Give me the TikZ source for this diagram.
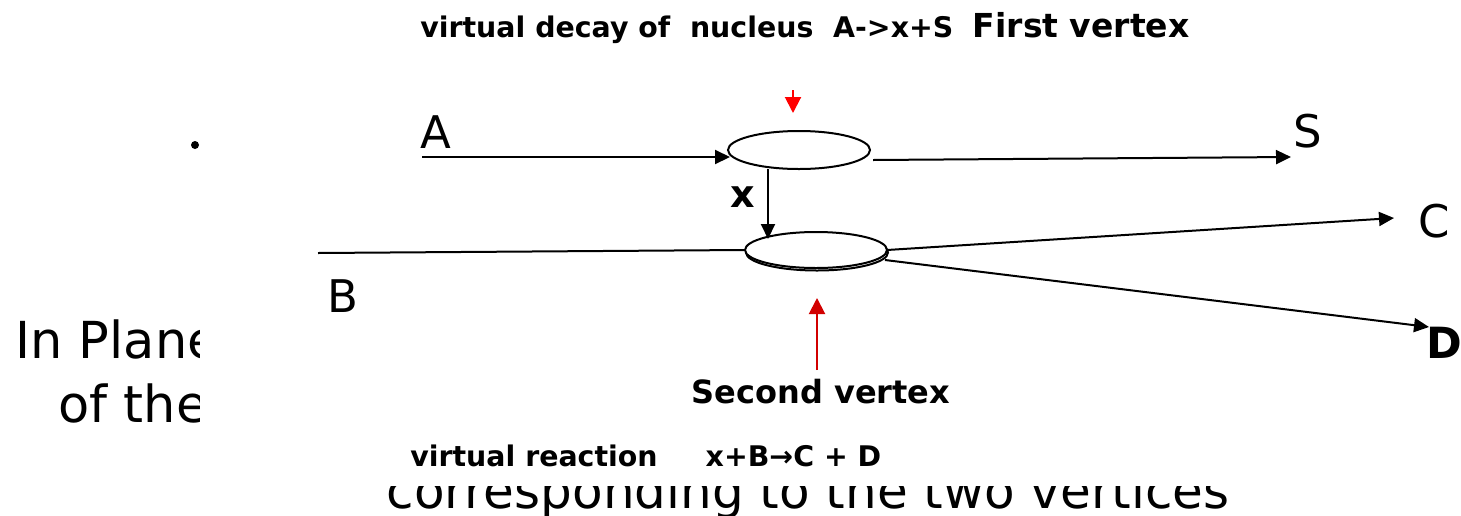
\documentclass[tikz,border=0pt]{standalone}
\usepackage{fontspec}
\setmainfont{DejaVu Sans}
\usetikzlibrary{arrows.meta,shapes.geometric}
\definecolor{darkred}{RGB}{210,0,0}
\tikzset{
  line/.style={line width=1pt,black},
  arr/.style={line, -{Triangle[length=7.5pt,width=7pt]}},
  redarr/.style={line width=1pt,#1,-{Triangle[length=8pt,width=8pt]}},
  vtx/.style={ellipse,draw,line width=1pt,minimum width=71pt,minimum height=19pt,inner sep=0pt,fill=white},
  big/.style={font=\fontsize{25.5}{30}\selectfont,inner sep=0pt},
  lbl/.style={font=\fontsize{22.5}{26}\selectfont,inner sep=0pt},
  captxt/.style={font=\fontsize{14.2}{17}\selectfont\bfseries,inner sep=0pt},
}
\begin{document}
\begin{tikzpicture}[x=0.5pt,y=-0.5pt]
\useasboundingbox (0,0) rectangle (1461,515);
\clip (0,0) rectangle (1461,515);
% background slide text, partly covered
\node[big,anchor=base west] (t1) at (15,358) {In Plane};
\node[big,anchor=base west] (t2) at (58,422) {of the};
\node[big,anchor=base,font=\fontsize{25}{30}\selectfont] (t3) at (808,508) {corresponding to the two vertices};
\fill[white] (200,0) rectangle (1461,486);
\fill[black] (195,145) circle (4);
% captions
\node[captxt,anchor=base west] (c1) at (420,37) {virtual decay of\ \ nucleus\ \ A->x+S};
\node[captxt,anchor=base east,font=\fontsize{16.5}{19}\selectfont\bfseries] (c2) at (1190,37) {First vertex};
\node[captxt,anchor=base,font=\fontsize{16}{19}\selectfont\bfseries] (c3) at (821,403) {Second vertex};
\node[captxt,anchor=base west,font=\fontsize{14.2}{17}\selectfont\bfseries] (c4) at (410,466) {virtual reaction\quad\ \ x+B→C + D};
% vertices
\node[vtx] (v1) at (799,150) {};
\node[vtx,minimum height=18pt] (v2b) at (817,252.5) {};
\node[vtx,minimum height=18pt] (v2) at (816,250) {};
% labels
\node[lbl,anchor=base west] (A) at (420,148) {A};
\node[lbl,anchor=base west] (S) at (1293,147) {S};
\node[lbl,anchor=base west] (C) at (1418,237) {C};
\node[lbl,anchor=base west,font=\fontsize{21.5}{26}\selectfont\bfseries] (D) at (1426,358) {D};
\node[lbl,anchor=base west] (B) at (327,312) {B};
\node[anchor=base west,font=\fontsize{19}{22}\selectfont\bfseries,inner sep=0pt] (x) at (730,207) {x};
% connector end points
\coordinate (a0) at (422,157);
\coordinate (a1) at (730,157);
\coordinate (s0) at (873,160);
\coordinate (s1) at (1291,157);
\coordinate (x0) at (768,169);
\coordinate (x1) at (768,239);
\coordinate (b0) at (318,253);
\coordinate (c0) at (887,250);
\coordinate (c1e) at (1394,218);
\coordinate (d0) at (885,260);
\coordinate (d1) at (1429,327);
\coordinate (r0) at (793,90);
\coordinate (r1) at (793,113);
\coordinate (q0) at (817,370);
\coordinate (q1) at (817,298);
% connectors
\draw[arr] (a0) -- (a1);
\draw[arr] (s0) -- (s1);
\draw[arr] (x0) -- (x1);
\draw[line] (b0) -- (v2.west);
\draw[arr] (c0) -- (c1e);
\draw[arr] (d0) -- (d1);
\draw[redarr=red] (r0) -- (r1);
\draw[redarr=darkred] (q0) -- (q1);
\end{tikzpicture}
\end{document}
